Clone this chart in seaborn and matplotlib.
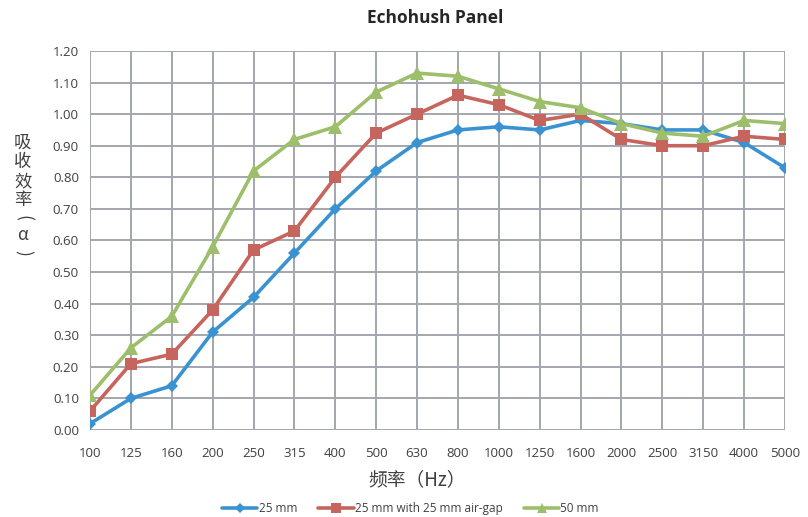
import pandas as pd
import numpy as np
import matplotlib
matplotlib.use("Agg")
import matplotlib.pyplot as plt
import seaborn as sns

freqs = ["100", "125", "160", "200", "250", "315", "400", "500", "630", "800",
         "1000", "1250", "1600", "2000", "2500", "3150", "4000", "5000"]
a_25mm = [0.02, 0.10, 0.14, 0.31, 0.42, 0.56, 0.70, 0.82, 0.91, 0.95,
          0.96, 0.95, 0.98, 0.97, 0.95, 0.95, 0.91, 0.83]
a_25mm_gap = [0.06, 0.21, 0.24, 0.38, 0.57, 0.63, 0.80, 0.94, 1.00, 1.06,
              1.03, 0.98, 1.00, 0.92, 0.90, 0.90, 0.93, 0.92]
a_50mm = [0.11, 0.26, 0.36, 0.58, 0.82, 0.92, 0.96, 1.07, 1.13, 1.12,
          1.08, 1.04, 1.02, 0.97, 0.94, 0.93, 0.98, 0.97]
series_names = ["25 mm", "25 mm with 25 mm air-gap", "50 mm"]
ylabel_chars = ["吸", "收", "效", "率", "(", "α", ")"]

colors = {"25 mm": "#3A93D0", "25 mm with 25 mm air-gap": "#C5655D", "50 mm": "#9DBE6A"}
markers = {"25 mm": "D", "25 mm with 25 mm air-gap": "s", "50 mm": "^"}

frames = []
for name, vals in zip(series_names, [a_25mm, a_25mm_gap, a_50mm]):
    frames.append(pd.DataFrame({"pos": np.arange(len(freqs)), "alpha": vals, "series": name}))
df = pd.concat(frames, ignore_index=True)

sns.set_style("white")
plt.rcParams["font.family"] = ["Open Sans", "Noto Sans CJK SC", "DejaVu Sans"]
cjk = ["Noto Sans CJK SC", "DejaVu Sans"]

fig = plt.figure(figsize=(8.08, 5.17), dpi=100)
ax = fig.add_axes([0.1114, 0.1683, 0.8601, 0.7331])

sns.lineplot(data=df, x="pos", y="alpha", hue="series", style="series",
             palette=colors, markers=markers, dashes=False, linewidth=2.6,
             markeredgewidth=0, ax=ax, legend=False, zorder=3)
for line in ax.lines:
    line.set_markersize({"D": 6.5, "s": 8.5, "^": 9.5}.get(line.get_marker(), 7))

ax.set_xlim(0, len(freqs) - 1)
ax.set_ylim(0, 1.2)
ax.set_xticks(np.arange(len(freqs)))
ax.set_xticklabels(freqs)
ax.set_yticks(np.arange(0, 1.21, 0.1))
ax.set_yticklabels([f"{v:.2f}" for v in np.arange(0, 1.21, 0.1)])
ax.grid(True, color="#A3A7AD", linewidth=1.4)
for s in ax.spines.values():
    s.set_visible(False)
ax.tick_params(axis="both", colors="#A3A7AD", length=4, width=1.4, labelcolor="#404040",
               labelsize=9.5, pad=4)
ax.tick_params(axis="x", pad=8)
ax.set_xlabel("")
ax.set_ylabel("")

fig.text(0.516, 0.073, "频率（Hz）", ha="center", va="center", fontsize=13.5,
         family=cjk, color="#404040")
fig.text(0.538, 0.966, "Echohush Panel", ha="center", va="center", fontsize=12.5,
         fontweight="bold", color="#262626")

# stacked vertical axis title, brackets turned to their vertical form
ylab_y = [143, 162, 181, 200, 218, 235, 253]
for ch, py in zip(ylabel_chars, ylab_y):
    rot = -90 if ch in "()" else 0
    fig.text(0.028, 1 - py / 517, ch, ha="center", va="center", fontsize=12.5,
             rotation=rot, family=cjk, color="#404040")

handles = [plt.Line2D([], [], color=colors[n], marker=markers[n], linewidth=2.6,
                      markersize={"D": 5.5, "s": 7, "^": 7.5}[markers[n]], markeredgewidth=0)
           for n in series_names]
fig.legend(handles, series_names, loc="center", bbox_to_anchor=(0.508, 0.017), ncol=3,
           frameon=False, fontsize=8.5, handlelength=3.0, handletextpad=0.1,
           columnspacing=1.8, labelcolor="#404040")

fig.savefig("out.png", dpi=100)
